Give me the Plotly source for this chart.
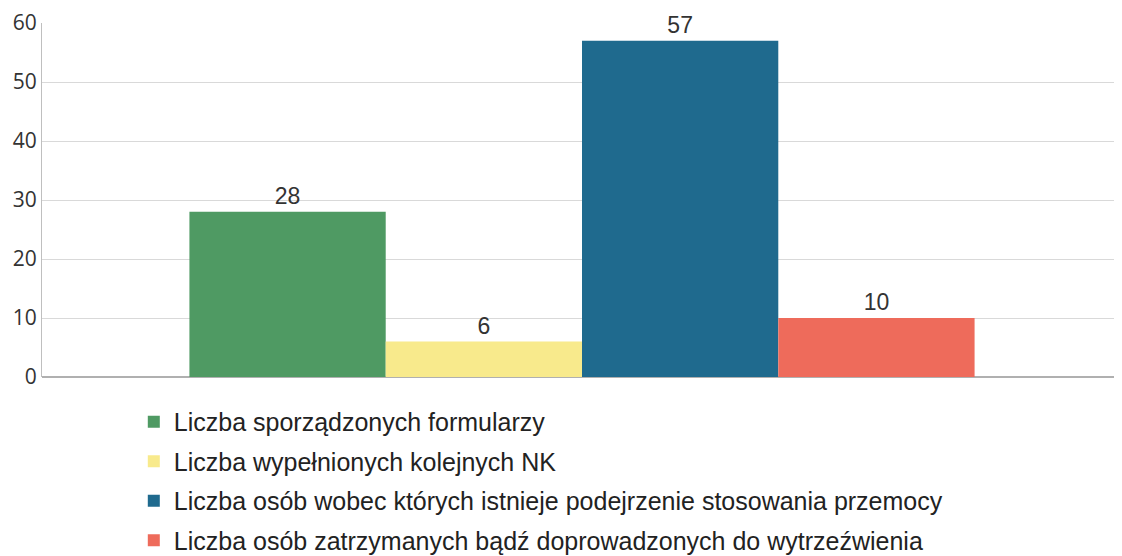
import plotly.graph_objects as go

series = [
    "Liczba sporządzonych formularzy",
    "Liczba wypełnionych kolejnych NK",
    "Liczba osób wobec których istnieje podejrzenie stosowania przemocy",
    "Liczba osób zatrzymanych bądź doprowadzonych do wytrzeźwienia",
]
values = [28, 6, 57, 10]
colors = ["#4f9a63", "#f8ea8c", "#1f6a8e", "#ee6b5b"]
category = [""]

fig = go.Figure()
for i, (name, v, c) in enumerate(zip(series, values, colors)):
    fig.add_trace(go.Bar(
        x=category, y=[v], name=name,
        marker=dict(color=c, line=dict(width=0)),
        text=[str(v)], textposition="outside",
        textfont=dict(size=23, color="#333333"),
        cliponaxis=False,
        legendgroup=str(i),
    ))

# page body has an 8px margin, so the figure is a bit smaller than the window
fig.update_layout(
    width=1114, height=548,
    margin=dict(l=34, r=0, t=15, b=179, autoexpand=False),
    paper_bgcolor="white", plot_bgcolor="white",
    barmode="group", bargap=0.273, bargroupgap=0,
    font=dict(family="Liberation Sans, Arial, sans-serif", size=20, color="#222222"),
    showlegend=True,
    legend=dict(
        x=0.085, y=-0.062, xanchor="left", yanchor="top",
        font=dict(size=25, color="#222222"),
        tracegroupgap=4, itemwidth=30,
    ),
    xaxis=dict(showticklabels=False, showgrid=False, showline=False, zeroline=False),
    yaxis=dict(
        range=[0, 60], dtick=10, showgrid=True, gridcolor="#d9d9d9", gridwidth=1,
        showline=True, linecolor="#bfbfbf", zeroline=True, zerolinecolor="#b0b0b0",
        tickfont=dict(size=21, color="#333333", family="Open Sans, sans-serif"),
        ticks="", ticklabelstandoff=0, automargin=False,
    ),
)

fig.write_html("out.html")
